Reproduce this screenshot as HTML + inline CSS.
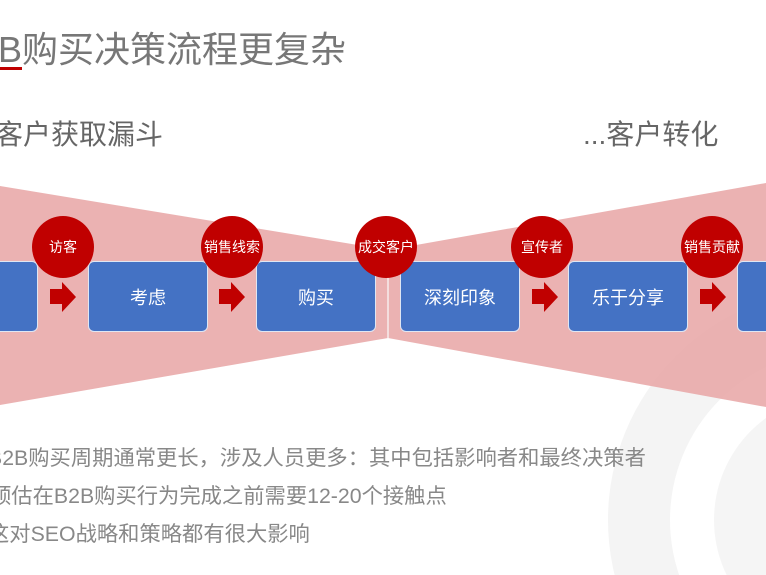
<!DOCTYPE html>
<html><head><meta charset="utf-8"><style>
html,body{margin:0;width:766px;height:575px;overflow:hidden}
body{background:#fff;position:relative;font-family:"Liberation Sans","Noto Sans CJK SC",sans-serif}
.t{position:absolute;white-space:nowrap}
.box{position:absolute;top:261px;width:120px;height:71px;background:#4472c4;border:1px solid #dfe6f3;border-radius:6px;box-sizing:border-box;color:#fff;font-size:18px;display:flex;align-items:center;justify-content:center}
.c{position:absolute;width:62px;height:62px;border-radius:50%;background:#c00000;color:#fff;font-size:14px;display:flex;align-items:center;justify-content:center;top:216px;white-space:nowrap}
</style></head><body>
<svg width="766" height="575" style="position:absolute;left:0;top:0">
<circle cx="840" cy="520" r="232" fill="#f4f4f4"/>
<circle cx="840" cy="520" r="170" fill="#fff"/>
<circle cx="840" cy="520" r="126" fill="#f5f5f5"/>
<polygon points="0,186 388,250 388,338 0,405" fill="#e8a5a5" opacity="0.85"/>
<polygon points="388,250 766,183 766,407 388,338" fill="#e8a5a5" opacity="0.85"/>
<line x1="388" y1="250" x2="388" y2="338" stroke="#f4dede" stroke-width="2"/>
<g fill="#c00000">
<polygon points="50,289 62,289 62,282 76,297 62,312 62,304 50,304"/>
<polygon points="219,289 231,289 231,282 245,297 231,312 231,304 219,304"/>
<polygon points="532,289 544,289 544,282 558,297 544,312 544,304 532,304"/>
<polygon points="700,289 712,289 712,282 726,297 712,312 712,304 700,304"/>
</g>
</svg>
<div class="t" style="left:-46px;top:21px;font-size:36px;color:#777">B2B购买决策流程更复杂</div>
<div style="position:absolute;left:0;top:67px;width:22px;height:3px;background:#c00000"></div>
<div class="t" style="left:-5px;top:113px;font-size:28px;color:#666">客户获取漏斗</div>
<div class="t" style="left:583px;top:113px;font-size:28px;color:#666">...客户转化</div>
<div class="box" style="left:-82px"></div>
<div class="box" style="left:88px">考虑</div>
<div class="box" style="left:256px">购买</div>
<div class="box" style="left:400px">深刻印象</div>
<div class="box" style="left:568px">乐于分享</div>
<div class="box" style="left:737px"></div>
<div class="c" style="left:32px">访客</div>
<div class="c" style="left:201px">销售线索</div>
<div class="c" style="left:355px">成交客户</div>
<div class="c" style="left:511px">宣传者</div>
<div class="c" style="left:681px">销售贡献</div>
<div class="t" style="left:-12px;top:441px;font-size:21.3px;color:#888">B2B购买周期通常更长，涉及人员更多：其中包括影响者和最终决策者</div>
<div class="t" style="left:-10px;top:479px;font-size:21.3px;color:#888">预估在B2B购买行为完成之前需要12-20个接触点</div>
<div class="t" style="left:-12px;top:517px;font-size:21.3px;color:#888">这对SEO战略和策略都有很大影响</div>
</body></html>
